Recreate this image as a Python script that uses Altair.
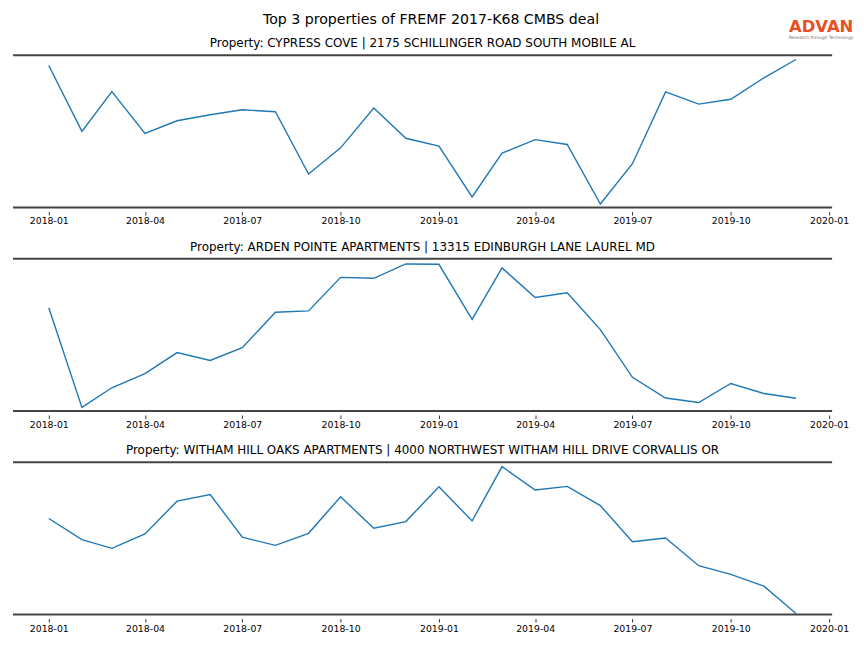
import altair as alt
import pandas as pd

months = [f"{y}/{m:02d}/01" for y in (2018, 2019) for m in range(1, 13)]

titles = [
    "Property: CYPRESS COVE | 2175 SCHILLINGER ROAD SOUTH MOBILE AL",
    "Property: ARDEN POINTE APARTMENTS | 13315 EDINBURGH LANE LAUREL MD",
    "Property: WITHAM HILL OAKS APARTMENTS | 4000 NORTHWEST WITHAM HILL DRIVE CORVALLIS OR",
]

cypress = [93.3, 50.0, 76.1, 48.7, 57.0, 60.9, 64.2, 62.9, 22.0, 39.2, 65.3, 45.5,
           40.3, 7.0, 35.7, 44.6, 41.4, 2.3, 28.8, 75.9, 67.9, 71.1, 85.2, 97.2]
arden = [67.8, 2.4, 15.3, 24.6, 38.4, 33.2, 41.6, 64.9, 65.8, 87.8, 87.2, 96.6,
         96.4, 60.2, 94.0, 74.6, 77.7, 53.5, 22.2, 8.6, 5.6, 18.1, 11.5, 8.4]
witham = [63.1, 49.2, 43.5, 53.0, 74.5, 78.9, 50.8, 45.5, 53.4, 77.4, 56.7, 61.1,
          84.0, 61.5, 97.2, 81.8, 84.2, 71.6, 47.9, 50.3, 32.1, 26.4, 18.7, 0.7]

main_title = "Top 3 properties of FREMF 2017-K68 CMBS deal"
logo_text = "ADVAN"
logo_sub = "Research through Technology"

tick_dates = [(2018, 1), (2018, 4), (2018, 7), (2018, 10), (2019, 1), (2019, 4),
              (2019, 7), (2019, 10), (2020, 1)]

W = 823
H = 153
FONT = "DejaVu Sans"

x_scale = alt.Scale(domain=[alt.DateTime(year=2017, month=11, date=28, hours=12),
                            alt.DateTime(year=2020, month=1, date=3, hours=19)])
x_axis = alt.Axis(values=[alt.DateTime(year=y, month=m, date=1) for y, m in tick_dates],
                  format="%Y-%m", domain=False, grid=False, tickSize=3.5, tickColor="#333",
                  tickWidth=1, offset=4, labelFontSize=9.4, labelColor="black",
                  labelFont=FONT, labelPadding=2, title=None, labelFlush=False)

one = pd.DataFrame({"k": [0]})


def text_layer(txt, x, y, size, color="black", weight="normal"):
    return alt.Chart(one).mark_text(fontSize=size, font=FONT, color=color,
                                    fontWeight=weight).encode(
        x=alt.value(x), y=alt.value(y), text=alt.value(txt))


def panel(values, title, first=False):
    df = pd.DataFrame({"month": months, "value": values})
    line = alt.Chart(df).mark_line(color="#1f77b4", strokeWidth=1.4).encode(
        x=alt.X("month:T", scale=x_scale, axis=x_axis),
        y=alt.Y("value:Q", scale=alt.Scale(domain=[0, 100]), axis=None),
    )
    top = alt.Chart(one).mark_rule(color="#444", strokeWidth=2).encode(
        x=alt.value(0), x2=alt.value(W), y=alt.value(0))
    bottom = alt.Chart(one).mark_rule(color="#444", strokeWidth=2).encode(
        x=alt.value(0), x2=alt.value(W), y=alt.value(H))
    layers = [top, bottom, line, text_layer(title, W / 2, -12, 12)]
    if first:
        layers += [
            text_layer(main_title, 420, -35, 14.2),
            text_layer(logo_text, 812, -28, 16.5, "#E8501F", "bold"),
            text_layer(logo_sub, 812, -17, 4.4, "#777"),
        ]
    return alt.layer(*layers).properties(width=W, height=H)


chart = alt.vconcat(
    panel(cypress, titles[0], first=True),
    panel(arden, titles[1]),
    panel(witham, titles[2]),
    spacing=15.5,
).properties(
    padding={"left": 4, "top": 4, "right": 2, "bottom": 0},
).configure_view(stroke=None)

chart.save("out.html", embed_options={"renderer": "svg", "actions": False})
